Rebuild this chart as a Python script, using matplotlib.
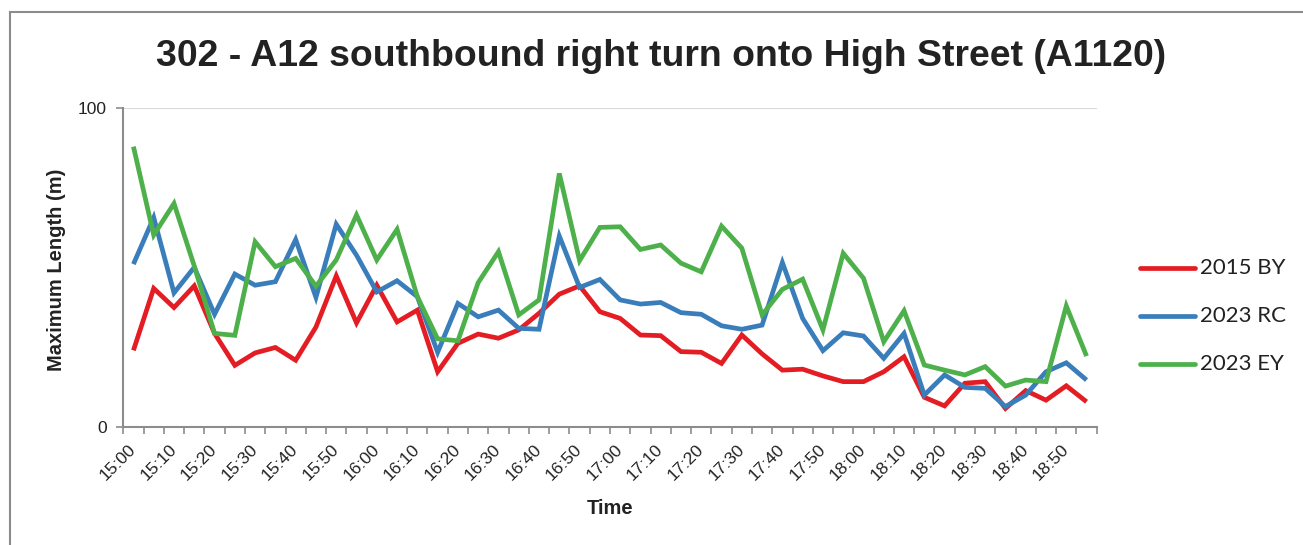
import matplotlib
matplotlib.use("Agg")
import matplotlib.pyplot as plt
from matplotlib.lines import Line2D

# Five-minute intervals, 15:00 to 18:55
times = [
    "15:00", "15:05", "15:10", "15:15", "15:20", "15:25", "15:30", "15:35",
    "15:40", "15:45", "15:50", "15:55", "16:00", "16:05", "16:10", "16:15",
    "16:20", "16:25", "16:30", "16:35", "16:40", "16:45", "16:50", "16:55",
    "17:00", "17:05", "17:10", "17:15", "17:20", "17:25", "17:30", "17:35",
    "17:40", "17:45", "17:50", "17:55", "18:00", "18:05", "18:10", "18:15",
    "18:20", "18:25", "18:30", "18:35", "18:40", "18:45", "18:50", "18:55",
]

series_names = ["2015 BY", "2023 RC", "2023 EY"]

by_2015 = [24.1, 43.5, 37.5, 44.3, 29.4, 19.4, 23.3, 25.0, 21.0, 31.4, 47.4, 32.7,
           44.5, 33.0, 36.7, 17.4, 26.3, 29.2, 27.9, 30.5, 35.7, 41.7, 44.3, 36.2,
           34.1, 28.9, 28.7, 23.7, 23.5, 20.0, 28.9, 23.0, 17.9, 18.2, 16.1, 14.3,
           14.3, 17.4, 22.1, 9.4, 6.7, 13.8, 14.3, 5.9, 11.5, 8.5, 13.0, 8.0]

rc_2023 = [51.1, 65.7, 42.1, 50.1, 35.4, 48.0, 44.5, 45.6, 58.8, 40.7, 63.6, 53.9,
           42.4, 45.9, 40.9, 23.5, 38.8, 34.6, 36.7, 31.0, 30.7, 59.9, 43.8, 46.3,
           39.9, 38.6, 39.1, 35.9, 35.4, 31.8, 30.7, 32.0, 51.6, 34.1, 24.0, 29.6,
           28.6, 21.6, 29.4, 10.1, 16.4, 12.5, 12.2, 6.5, 10.1, 17.4, 20.2, 14.8]

ey_2023 = [87.9, 60.2, 70.1, 50.5, 29.4, 28.8, 58.1, 50.3, 52.9, 44.2, 52.4, 66.5,
           52.4, 62.0, 40.9, 27.7, 27.1, 45.3, 55.0, 35.2, 39.9, 79.5, 52.2, 62.6,
           62.8, 55.7, 57.1, 51.4, 48.7, 63.0, 56.1, 35.2, 43.2, 46.4, 30.5, 54.5,
           46.7, 26.8, 36.5, 19.5, 17.9, 16.4, 19.0, 12.9, 14.8, 14.3, 38.0, 22.3]

series_colors = ["#e31d23", "#3a7dbb", "#4db04a"]

title = "302 - A12 southbound right turn onto High Street (A1120)"
x_title = "Time"
y_title = "Maximum Length (m)"
y_ticks = [0, 100]

TEXT = "#222222"
AXIS = "#8c8c8c"
GRID = "#d9d9d9"
SANS = "Liberation Sans"

W, H, DPI = 1303, 545, 100
fig = plt.figure(figsize=(W / DPI, H / DPI), dpi=DPI)
fig.patch.set_facecolor("white")

# plot area in pixels: x 123.3..1096.7, y 108..427.3 (from top)
left, right, top, bottom = 123.3, 1096.7, 108.0, 427.3
ax = fig.add_axes([left / W, 1 - bottom / H, (right - left) / W, (bottom - top) / H])

xs = list(range(len(times)))
for vals, color in zip([by_2015, rc_2023, ey_2023], series_colors):
    ax.plot(xs, vals, color=color, lw=3.4, solid_joinstyle="miter",
            solid_capstyle="butt", zorder=3)

ax.set_xlim(-0.5, len(times) - 0.5)
ax.set_ylim(0, 100)

for side in ["top", "right"]:
    ax.spines[side].set_visible(False)
for side in ["left", "bottom"]:
    ax.spines[side].set_color(AXIS)
    ax.spines[side].set_linewidth(1.5)

ax.set_yticks(y_ticks)
ax.set_yticklabels([str(v) for v in y_ticks], fontsize=12.5, family=SANS, color=TEXT)
ax.tick_params(axis="y", direction="out", length=5, width=1.2, color=AXIS, pad=7)
ax.axhline(100, color=GRID, lw=1.5, zorder=1)

# tick marks between categories, labels at every other category
ax.set_xticks([i - 0.5 for i in range(len(times) + 1)])
ax.set_xticklabels([])
ax.tick_params(axis="x", direction="out", length=5, width=1.2, color=AXIS)
label_idx = xs[::2]
ax.set_xticks(label_idx, minor=True)
ax.set_xticklabels([times[i] for i in label_idx], minor=True, rotation=45,
                   ha="right", va="center", rotation_mode="anchor",
                   fontsize=12.5, family=SANS, color=TEXT)
ax.tick_params(axis="x", which="minor", length=0, pad=14)

fig.text(661.5 / W, 1 - 56 / H, title, ha="center", va="center",
         fontsize=26.9, fontweight="bold", family=SANS, color=TEXT)
fig.text(610 / W, 1 - 508 / H, x_title, ha="center", va="center",
         fontsize=14.5, fontweight="bold", family=SANS, color=TEXT)
fig.text(57 / W, 1 - 270 / H, y_title, ha="center", va="center", rotation=90,
         fontsize=14.5, fontweight="bold", family=SANS, color=TEXT)

# legend
for k, (name, color) in enumerate(zip(series_names, series_colors)):
    yy = 1 - (268 + 48 * k) / H
    fig.add_artist(Line2D([1140 / W, 1195 / W], [yy, yy], color=color, lw=3.4,
                          solid_capstyle="round", transform=fig.transFigure))
    fig.text(1200 / W, yy, name, ha="left", va="center", fontsize=16,
             family="Lato", color=TEXT)

# chart frame
fig.add_artist(Line2D([10 / W, 10 / W], [0, 1 - 12 / H], color=AXIS, lw=1.5,
                      transform=fig.transFigure))
fig.add_artist(Line2D([10 / W, 1], [1 - 12 / H, 1 - 12 / H], color=AXIS, lw=1.5,
                      transform=fig.transFigure))

fig.savefig("out.png", dpi=DPI)
